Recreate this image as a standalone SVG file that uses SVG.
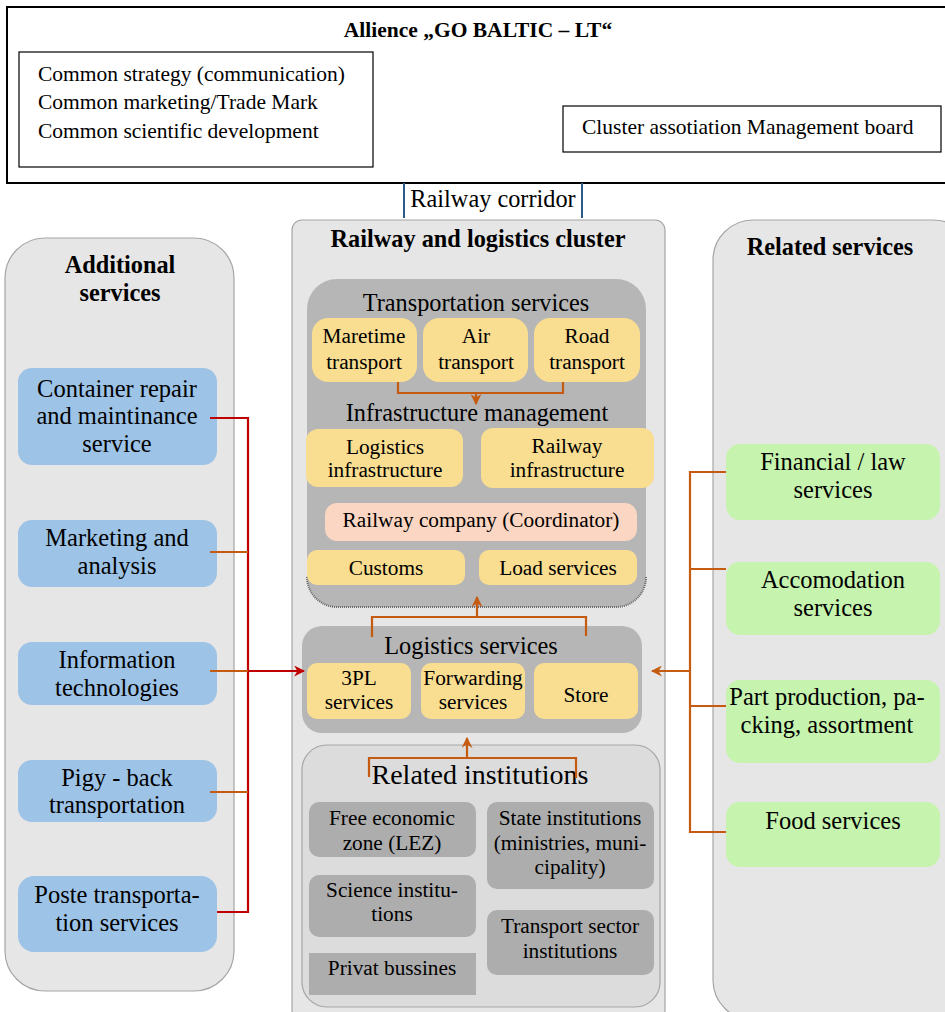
<svg xmlns="http://www.w3.org/2000/svg" width="945" height="1012" viewBox="0 0 945 1012">
<style>
text{font-family:'Liberation Serif','DejaVu Serif','Times New Roman',serif;fill:#000;}
.t{font-size:21.3px;text-anchor:middle;}
.s{font-size:24.5px;text-anchor:middle;}
.h{font-size:24.3px;text-anchor:middle;}
.top{font-size:21.5px;}
.b{font-weight:bold;}
.col{fill:#e6e6e6;stroke:#a6a6a6;stroke-width:1.2;}
.blue{fill:#9dc3e6;}
.green{fill:#c6f3ae;}
.yel{fill:#f9dd90;}
.gray{fill:#b6b6b6;}
.ig{fill:#adadad;}
.or{stroke:#c55a11;stroke-width:2.2;fill:none;}
.red{stroke:#c00000;stroke-width:2.2;fill:none;}
</style>
<defs>
<marker id="ao" viewBox="0 0 10 10" refX="9" refY="5" markerWidth="5" markerHeight="5" orient="auto"><path d="M0,0 L10,5 L0,10 L3,5 z" fill="#c55a11"/></marker>
<marker id="ar" viewBox="0 0 10 10" refX="9" refY="5" markerWidth="5" markerHeight="5" orient="auto"><path d="M0,0 L10,5 L0,10 L3,5 z" fill="#c00000"/></marker>
</defs>
<rect width="945" height="1012" fill="#fff"/>

<g id="alliance">
<rect x="7" y="7" width="945" height="176" fill="#fff" stroke="#000" stroke-width="2"/>
<text x="478" y="37" class="b top" text-anchor="middle">Allience „GO BALTIC – LT“</text>
</g>
<g id="common">
<rect x="19" y="52" width="354" height="115" fill="#fff" stroke="#000" stroke-width="1.2"/>
<text x="38" y="81" class="top">Common strategy (communication)</text>
<text x="38" y="109" class="top">Common marketing/Trade Mark</text>
<text x="38" y="138" class="top">Common scientific development</text>
</g>
<g id="board">
<rect x="563" y="106" width="378" height="46" fill="#fff" stroke="#000" stroke-width="1.2"/>
<text x="582" y="134" class="top">Cluster assotiation Management board</text>
</g>
<g id="corridor">
<line x1="404" y1="183" x2="404" y2="218" stroke="#2e5c8a" stroke-width="2"/>
<line x1="582" y1="183" x2="582" y2="218" stroke="#2e5c8a" stroke-width="2"/>
<text x="493" y="207" class="h">Railway corridor</text>
</g>

<g id="additional">
<rect x="5" y="238" width="229" height="753" rx="40" class="col"/>
<text x="120" y="273" class="h b">Additional</text>
<text x="120" y="301" class="h b">services</text>
</g>
<g id="container"><rect x="18" y="368" width="199" height="97" rx="14" class="blue"/>
<text x="117" y="397" class="s">Container repair</text><text x="117" y="424" class="s">and maintinance</text><text x="117" y="452" class="s">service</text></g>
<g id="marketing"><rect x="18" y="520" width="199" height="67" rx="14" class="blue"/>
<text x="117" y="546" class="s">Marketing and</text><text x="117" y="574" class="s">analysis</text></g>
<g id="it"><rect x="18" y="642" width="199" height="63" rx="14" class="blue"/>
<text x="117" y="668" class="s">Information</text><text x="117" y="696" class="s">technologies</text></g>
<g id="pigy"><rect x="18" y="760" width="199" height="62" rx="14" class="blue"/>
<text x="117" y="786" class="s">Pigy - back</text><text x="117" y="813" class="s">transportation</text></g>
<g id="poste"><rect x="18" y="876" width="199" height="76" rx="16" class="blue"/>
<text x="117" y="903" class="s">Poste transporta-</text><text x="117" y="931" class="s">tion services</text></g>

<g id="related-services">
<rect x="713" y="220" width="260" height="800" rx="40" class="col"/>
<text x="830" y="255" class="h b">Related services</text>
</g>
<g id="financial"><rect x="726" y="444" width="214" height="76" rx="14" class="green"/>
<text x="833" y="470" class="s">Financial / law</text><text x="833" y="498" class="s">services</text></g>
<g id="accomodation"><rect x="726" y="562" width="214" height="73" rx="14" class="green"/>
<text x="833" y="588" class="s">Accomodation</text><text x="833" y="616" class="s">services</text></g>
<g id="part"><rect x="726" y="680" width="214" height="83" rx="14" class="green"/>
<text x="827" y="705" class="s" font-size="23.5">Part production, pa-</text><text x="827" y="733" class="s" font-size="23.5">cking, assortment</text></g>
<g id="food"><rect x="726" y="802" width="214" height="65" rx="14" class="green"/>
<text x="833" y="829" class="s">Food services</text></g>

<g id="cluster">
<rect x="292" y="220" width="373" height="800" rx="10" class="col"/>
<text x="478" y="247" class="h b">Railway and logistics cluster</text>
</g>
<g id="transportation">
<rect x="307" y="279" width="339" height="328" rx="30" class="gray"/>
<path d="M307,577 A30,30 0 0 0 337,607 H616 A30,30 0 0 0 646,577" fill="none" stroke="#666" stroke-width="2" stroke-dasharray="1 1"/>
<text x="476" y="311" class="h">Transportation services</text>
</g>
<g id="maretime"><rect x="312" y="318" width="105" height="64" rx="16" class="yel"/>
<text x="364" y="343" class="t">Maretime</text><text x="364" y="369" class="t">transport</text></g>
<g id="air"><rect x="423" y="318" width="105" height="64" rx="16" class="yel"/>
<text x="476" y="343" class="t">Air</text><text x="476" y="369" class="t">transport</text></g>
<g id="road"><rect x="534" y="318" width="106" height="64" rx="16" class="yel"/>
<text x="587" y="343" class="t">Road</text><text x="587" y="369" class="t">transport</text></g>
<g id="infra-title"><text x="477" y="421" class="h">Infrastructure management</text></g>
<g id="logistics-infra"><rect x="306" y="429" width="157" height="58" rx="12" class="yel"/>
<text x="385" y="454" class="t">Logistics</text><text x="385" y="477" class="t">infrastructure</text></g>
<g id="railway-infra"><rect x="481" y="428" width="173" height="60" rx="12" class="yel"/>
<text x="567" y="453" class="t">Railway</text><text x="567" y="477" class="t">infrastructure</text></g>
<g id="railway-company"><rect x="325" y="503" width="312" height="38" rx="12" fill="#fbd6c2"/>
<text x="481" y="527" class="t">Railway company (Coordinator)</text></g>
<g id="customs"><rect x="307" y="550" width="158" height="35" rx="10" class="yel"/>
<text x="386" y="575" class="t">Customs</text></g>
<g id="load"><rect x="479" y="550" width="158" height="35" rx="10" class="yel"/>
<text x="558" y="575" class="t">Load services</text></g>

<g id="logistics">
<rect x="302" y="626" width="340" height="107" rx="20" class="gray"/>
<text x="471" y="654" class="h">Logistics services</text>
</g>
<g id="3pl"><rect x="307" y="663" width="104" height="56" rx="10" class="yel"/>
<text x="359" y="685" class="t">3PL</text><text x="359" y="709" class="t">services</text></g>
<g id="forwarding"><rect x="421" y="663" width="104" height="56" rx="10" class="yel"/>
<text x="473" y="685" class="t">Forwarding</text><text x="473" y="709" class="t">services</text></g>
<g id="store"><rect x="534" y="663" width="104" height="56" rx="10" class="yel"/>
<text x="586" y="702" class="t">Store</text></g>

<g id="institutions">
<rect x="302" y="745" width="358" height="262" rx="25" fill="#dcdcdc" stroke="#a6a6a6" stroke-width="1.2"/>
<text x="480" y="784" font-size="28" text-anchor="middle">Related institutions</text>
</g>
<g id="free-zone"><rect x="309" y="802" width="167" height="55" rx="10" class="ig"/>
<text x="392" y="825" class="t">Free economic</text><text x="392" y="850" class="t">zone (LEZ)</text></g>
<g id="state"><rect x="487" y="802" width="167" height="87" rx="10" class="ig"/>
<text x="570" y="825" class="t">State institutions</text><text x="570" y="850" class="t">(ministries, muni-</text><text x="570" y="874" class="t">cipality)</text></g>
<g id="science"><rect x="309" y="875" width="167" height="62" rx="10" class="ig"/>
<text x="392" y="897" class="t">Science institu-</text><text x="392" y="921" class="t">tions</text></g>
<g id="transport-sector"><rect x="487" y="910" width="167" height="65" rx="10" class="ig"/>
<text x="570" y="933" class="t">Transport sector</text><text x="570" y="958" class="t">institutions</text></g>
<g id="privat"><rect x="309" y="953" width="167" height="42" class="ig"/>
<text x="392" y="975" class="t">Privat bussines</text></g>

<g id="connectors">
<path class="or" d="M398,382 V393 H563 V382"/>
<path class="or" d="M476,393 V404" marker-end="url(#ao)"/>
<path class="or" d="M372,637 V617 H586 V636"/>
<path class="or" d="M477,617 V597" marker-end="url(#ao)"/>
<path class="or" d="M369,777 V758 H576 V778"/>
<path class="or" d="M467,758 V738" marker-end="url(#ao)"/>
<path class="red" d="M210,418 H248 V912 H217"/>
<path class="or" d="M210,552 H248 M210,671 H248 M210,792 H248"/>
<path class="red" d="M248,671 H304" marker-end="url(#ar)"/>
<path class="or" d="M726,472 H690 V832 H726 M690,569 H726 M690,706 H726"/>
<path class="or" d="M690,671 H652" marker-end="url(#ao)"/>
</g>
</svg>
